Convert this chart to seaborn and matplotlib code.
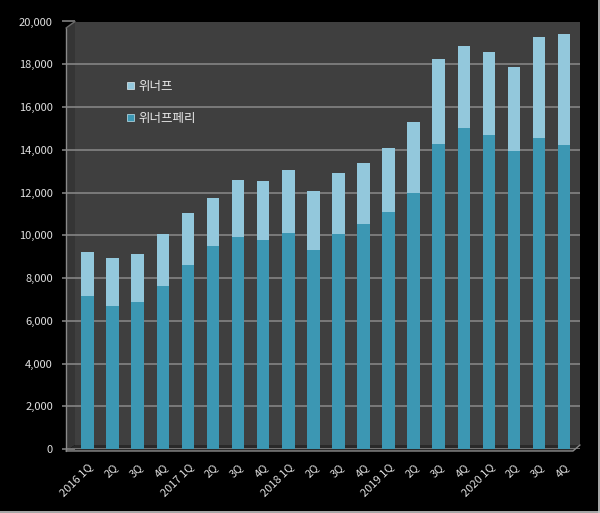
import matplotlib
matplotlib.use("Agg")
import matplotlib.pyplot as plt
import seaborn as sns
import pandas as pd
from matplotlib.patches import Patch, Polygon
from matplotlib.lines import Line2D
from matplotlib.ticker import FuncFormatter, MultipleLocator

quarters = ["2016 1Q", "2Q", "3Q", "4Q", "2017 1Q", "2Q", "3Q", "4Q",
            "2018 1Q", "2Q", "3Q", "4Q", "2019 1Q", "2Q", "3Q", "4Q",
            "2020 1Q", "2Q", "3Q", "4Q"]
winnerf_peri = [7160, 6700, 6890, 7610, 8610, 9500, 9900, 9780, 10090, 9310,
                10040, 10510, 11070, 11960, 14250, 15030, 14670, 13940, 14560, 14200]
winnerf = [2070, 2220, 2240, 2430, 2440, 2230, 2680, 2760, 2940, 2760,
           2890, 2880, 3020, 3330, 3990, 3820, 3880, 3910, 4710, 5210]

labels_series = ["위너프", "위너프페리"]
col_light = "#93c8dc"
col_dark = "#3c97b3"

sns.set_theme(style="dark")
plt.rcParams["font.family"] = ["Noto Sans CJK KR", "DejaVu Sans"]

keys = [f"{i:02d}" for i in range(len(quarters))]
df = pd.DataFrame({
    "key": keys,
    "quarter": quarters,
    "peri": winnerf_peri,
    "total": [a + b for a, b in zip(winnerf_peri, winnerf)],
})

W, H = 600, 513
fig = plt.figure(figsize=(W / 100, H / 100), dpi=100, facecolor="black")


def fx(px):
    return px / W


def fy(py):
    return 1 - py / H


# 3D-like walls (decoration, figure pixel coordinates)
wall_back = Polygon([(fx(75), fy(21.5)), (fx(580), fy(21.5)), (fx(580), fy(445)), (fx(75), fy(445))],
                    closed=True, transform=fig.transFigure, facecolor="#3f3f3f",
                    edgecolor="none", zorder=-3)
wall_left = Polygon([(fx(66), fy(28)), (fx(75), fy(21.5)), (fx(75), fy(445)), (fx(66), fy(451))],
                    closed=True, transform=fig.transFigure, facecolor="#353535",
                    edgecolor="none", zorder=-3)
floor = Polygon([(fx(66), fy(451)), (fx(75), fy(445)), (fx(580), fy(445)), (fx(573), fy(451))],
                closed=True, transform=fig.transFigure, facecolor="#2a2a2a",
                edgecolor="none", zorder=-2)
for p in (wall_back, wall_left, floor):
    fig.add_artist(p)

x0, x1 = 75, 580
y_bot, y_top = 449, 21.5
ax = fig.add_axes([x0 / W, 1 - y_bot / H, (x1 - x0) / W, (y_bot - y_top) / H])
ax.set_facecolor("none")
ax.patch.set_alpha(0)

sns.barplot(data=df, x="key", y="total", color=col_light, saturation=1,
            width=0.5, ax=ax, edgecolor="none")
sns.barplot(data=df, x="key", y="peri", color=col_dark, saturation=1,
            width=0.5, ax=ax, edgecolor="none")

ax.set_ylim(0, 20000)
ax.set_xlim(-0.36, 19.63)
ax.yaxis.set_major_locator(MultipleLocator(2000))
ax.yaxis.set_major_formatter(FuncFormatter(lambda v, p: f"{int(v):,}"))
ax.grid(axis="y", color="#8a8a8a", linewidth=1.1)
ax.grid(axis="x", visible=False)
ax.set_axisbelow(True)
ax.set_xlabel("")
ax.set_ylabel("")

ax.set_xticks(range(len(quarters)))
ax.set_xticklabels(quarters, rotation=45, ha="right", rotation_mode="anchor",
                   fontsize=8, color="#e0e0e0")
ax.tick_params(axis="x", which="major", length=0, pad=9)
ax.set_xticks([i + 0.5 for i in range(-1, len(quarters))], minor=True)
ax.tick_params(axis="x", which="minor", length=4.3, color="#9a9a9a", width=1)
ax.tick_params(axis="y", length=9.4, color="#8a8a8a", width=1.1, labelsize=8,
               labelcolor="#e0e0e0", left=True, pad=6.5)

for s in ax.spines.values():
    s.set_visible(False)

# front axis lines
axis_col = "#8a8a8a"
fig.add_artist(Line2D([fx(66), fx(66)], [fy(28), fy(451)], transform=fig.transFigure,
                      color=axis_col, linewidth=1))
fig.add_artist(Line2D([fx(66), fx(573), fx(580)], [fy(451), fy(451), fy(445)],
                      transform=fig.transFigure, color=axis_col, linewidth=1))
fig.add_artist(Line2D([fx(66), fx(75)], [fy(28), fy(21.5)], transform=fig.transFigure,
                      color="#6a6a6a", linewidth=1))

handles = [Patch(facecolor=col_light, edgecolor="#dfeff5", linewidth=0.5),
           Patch(facecolor=col_dark, edgecolor="#bfe3ee", linewidth=0.5)]
leg = ax.legend(handles, labels_series, loc="upper left",
                bbox_to_anchor=(127 / W, 1 - 80 / H), bbox_transform=fig.transFigure,
                frameon=False, fontsize=9, labelspacing=1.5,
                handlelength=0.55, handleheight=0.55, handletextpad=0.4,
                borderpad=0, borderaxespad=0)
for t in leg.get_texts():
    t.set_color("#e8e8e8")

# screenshot border on right and bottom
fig.add_artist(Line2D([0, 1], [1 / H, 1 / H], transform=fig.transFigure,
                      color="#c8c8c8", linewidth=1.2))
fig.add_artist(Line2D([1 - 1 / W, 1 - 1 / W], [0, 1], transform=fig.transFigure,
                      color="#c8c8c8", linewidth=1.2))

fig.savefig("out.png", dpi=100, facecolor="black")
